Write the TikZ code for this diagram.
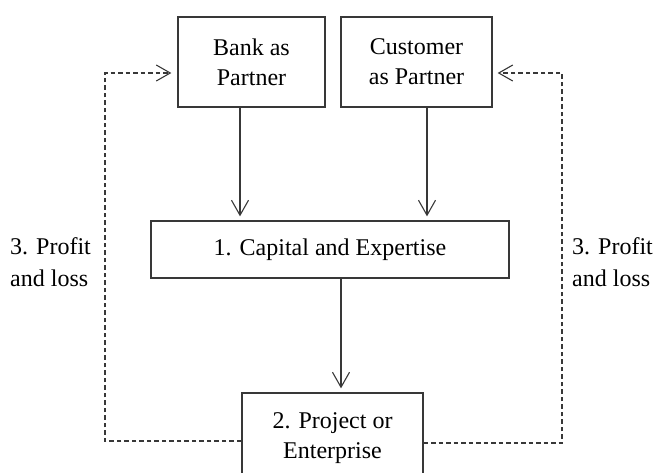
\documentclass[tikz,border=0pt]{standalone}
\usepackage{fontspec}
\setmainfont{Liberation Serif}
\usetikzlibrary{arrows.meta}
\begin{document}
\begin{tikzpicture}[x=1pt,y=-1pt,
  box/.style={draw=black!78,line width=1.3pt,rectangle,inner sep=0pt,align=center,
    font=\fontsize{24}{30}\selectfont},
  lbl/.style={inner sep=0pt,align=left,anchor=west,font=\fontsize{24}{32}\selectfont},
  solidarrow/.style={draw=black!78,line width=1.1pt,-{Straight Barb[length=15pt,width=17pt,line width=1.1pt]},shorten >=4pt},
  dasharrow/.style={draw=black!78,line width=1.1pt,dash pattern=on 4.5pt off 3pt,
    -{Straight Barb[length=14pt,width=16pt,line width=1.1pt]},shorten >=6pt}]
\clip (0,0) rectangle (656,472);
\node[box,minimum width=147pt,minimum height=90pt] (bank) at (251.5,62) {Bank as\\Partner};
\node[box,minimum width=151pt,minimum height=90pt] (cust) at (416.5,62) {Customer\\as Partner};
\node[box,minimum width=358pt,minimum height=57pt] (cap) at (330,249.5) {1. Capital and Expertise};
\node[box,minimum width=181pt,minimum height=90pt] (proj) at (332.5,438) {2. Project or\\Enterprise};
\node[lbl] (ll) at (10,262) {3. Profit\\and loss};
\node[lbl] (rl) at (572,262) {3. Profit\\and loss};
\coordinate (ca) at (240,0);
\coordinate (cb) at (427,0);
\coordinate (cc) at (341,0);
\coordinate (ly) at (0,441);
\coordinate (ry) at (0,443);
\coordinate (ty) at (0,73);
\coordinate (lx) at (105,0);
\coordinate (rx) at (562,0);
\draw[solidarrow] (bank.south -| ca) -- (cap.north -| ca);
\draw[solidarrow] (cust.south -| cb) -- (cap.north -| cb);
\draw[solidarrow] (cap.south -| cc) -- (proj.north -| cc);
\draw[dasharrow] (proj.west |- ly) -- (lx |- ly) -- (lx |- ty) -- (bank.west |- ty);
\draw[dasharrow,shorten >=5pt] (proj.east |- ry) -- (rx |- ry) -- (rx |- ty) -- (cust.east |- ty);
\end{tikzpicture}
\end{document}
